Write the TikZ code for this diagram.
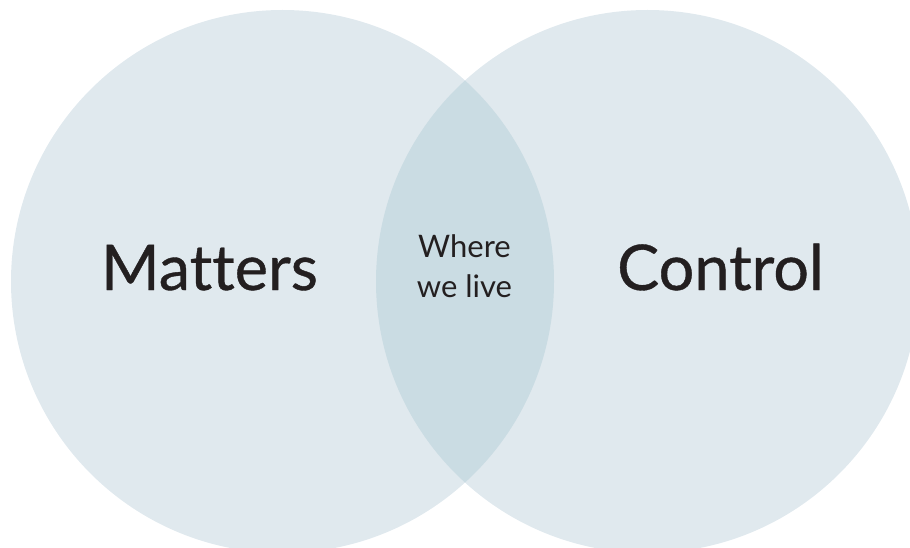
\documentclass[tikz,border=0pt]{standalone}
\usepackage{fontspec}
\setmainfont{Lato}[Ligatures=NoCommon]
\newfontfamily\bigfont{Lato}[Ligatures=NoCommon,FakeBold=0.6]
\definecolor{circfill}{RGB}{224,233,238}
\definecolor{lensfill}{RGB}{202,220,227}
\definecolor{txt}{RGB}{35,31,32}
\begin{document}
\begin{tikzpicture}[x=1pt,y=-1pt,
  big/.style={font=\bigfont\fontsize{63}{63}\selectfont, text=txt, anchor=base, inner sep=0pt},
  small/.style={font=\fontsize{31}{39}\selectfont, text=txt, align=center, anchor=base, inner sep=0pt}]
\useasboundingbox (0,0) rectangle (910,548);
\begin{scope}
\clip (0,0) rectangle (910,548);
\fill[circfill] (282.5,281.5) circle[radius=271.5];
\fill[circfill] (647.5,281.5) circle[radius=271.5];
\begin{scope}
\clip (282.5,281.5) circle[radius=271.5];
\fill[lensfill] (647.5,281.5) circle[radius=271.5];
\end{scope}
\end{scope}
\node[big] (matters) at (209.5,290) {Matters};
\node[big] (control) at (720.5,290) {Control};
\node[small] (where) at (464.5,258) {Where};
\node[small] (welive) at (464.5,297) {we live};
\end{tikzpicture}
\end{document}
